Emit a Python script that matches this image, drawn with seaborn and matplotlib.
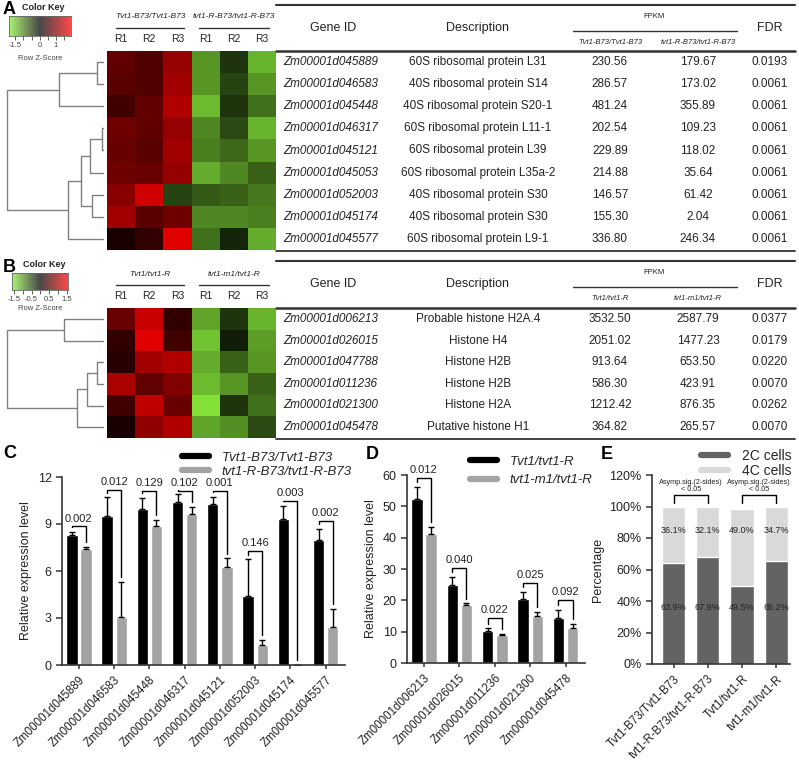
import numpy as np
import pandas as pd
import matplotlib.pyplot as plt
import seaborn as sns
from matplotlib.colors import LinearSegmentedColormap
from matplotlib.lines import Line2D

sns.set_style("ticks")
plt.rcParams['font.family'] = ['Liberation Sans', 'DejaVu Sans']

# ---------------- data ----------------
reps = ['R1', 'R2', 'R3', 'R1', 'R2', 'R3']

heat_a = [[0.60, 0.50, 0.95, -1.00, -0.35, -1.20],
          [0.55, 0.50, 1.00, -1.00, -0.45, -1.00],
          [0.40, 0.60, 1.10, -1.25, -0.35, -0.75],
          [0.70, 0.60, 0.95, -0.90, -0.50, -1.20],
          [0.65, 0.55, 1.00, -0.85, -0.70, -1.00],
          [0.70, 0.65, 0.95, -1.15, -0.90, -0.65],
          [0.85, 1.30, -0.45, -0.60, -0.65, -0.80],
          [1.00, 0.55, 0.70, -0.90, -0.90, -0.85],
          [0.15, 0.30, 1.40, -0.75, -0.25, -1.15]]
# dendrogram merges: (child a, child b, height); ids >= n are earlier merges
dendro_a = [(0, 1, 6), (9, 2, 44), (3, 4, 1), (11, 5, 13), (6, 7, 11),
            (12, 13, 22), (14, 8, 35), (10, 15, 96)]
ids_a = ['Zm00001d045889', 'Zm00001d046583', 'Zm00001d045448', 'Zm00001d046317',
         'Zm00001d045121', 'Zm00001d045053', 'Zm00001d052003', 'Zm00001d045174',
         'Zm00001d045577']
desc_a = ['60S ribosomal protein L31', '40S ribosomal protein S14',
          '40S ribosomal protein S20-1', '60S ribosomal protein L11-1',
          '60S ribosomal protein L39', '60S ribosomal protein L35a-2',
          '40S ribosomal protein S30', '40S ribosomal protein S30',
          '60S ribosomal protein L9-1']
fpkm_a_wt = [230.56, 286.57, 481.24, 202.54, 229.89, 214.88, 146.57, 155.30, 336.80]
fpkm_a_mut = [179.67, 173.02, 355.89, 109.23, 118.02, 35.64, 61.42, 2.04, 246.34]
fdr_a = [0.0193, 0.0061, 0.0061, 0.0061, 0.0061, 0.0061, 0.0061, 0.0061, 0.0061]
groups_a = ['Tvt1-B73/Tvt1-B73', 'tvt1-R-B73/tvt1-R-B73']

# panel B
heat_b = [[0.65, 1.25, 0.30, -1.10, -0.35, -1.20],
          [0.30, 1.40, 0.40, -1.30, -0.20, -1.05],
          [0.25, 1.00, 1.10, -1.15, -0.65, -1.00],
          [1.05, 0.60, 0.80, -1.25, -1.00, -0.65],
          [0.40, 1.20, 0.65, -1.50, -0.35, -0.75],
          [0.15, 0.90, 1.10, -1.10, -0.95, -0.50]]
dendro_b = [(0, 1, 39), (2, 3, 6), (7, 4, 16), (8, 5, 26), (6, 9, 96)]
ids_b = ['Zm00001d006213', 'Zm00001d026015', 'Zm00001d047788', 'Zm00001d011236',
         'Zm00001d021300', 'Zm00001d045478']
desc_b = ['Probable histone H2A.4', 'Histone H4', 'Histone H2B', 'Histone H2B',
          'Histone H2A', 'Putative histone H1']
fpkm_b_wt = [3532.50, 2051.02, 913.64, 586.30, 1212.42, 364.82]
fpkm_b_mut = [2587.79, 1477.23, 653.50, 423.91, 876.35, 265.57]
fdr_b = [0.0377, 0.0179, 0.0220, 0.0070, 0.0262, 0.0070]
groups_b = ['Tvt1/tvt1-R', 'tvt1-m1/tvt1-R']

# panel C
genes_c = ['Zm00001d045889', 'Zm00001d046583', 'Zm00001d045448', 'Zm00001d046317',
           'Zm00001d045121', 'Zm00001d052003', 'Zm00001d045174', 'Zm00001d045577']
c_wt = [8.3, 9.5, 9.95, 10.4, 10.27, 4.4, 9.3, 8.0]
c_wt_err = [0.2, 1.2, 0.7, 0.5, 0.45, 2.35, 0.85, 0.7]
c_mut = [7.4, 3.05, 8.85, 9.64, 6.25, 1.28, 0.0, 2.4]
c_mut_err = [0.15, 2.25, 0.4, 0.45, 0.55, 0.32, 0.0, 1.2]
c_p = ['0.002', '0.012', '0.129', '0.102', '0.001', '0.146', '0.003', '0.002']
c_bracket = [8.85, 11.2, 11.1, 11.1, 11.1, 7.3, 10.5, 9.2]

# panel D
genes_d = ['Zm00001d006213', 'Zm00001d026015', 'Zm00001d011236', 'Zm00001d021300',
           'Zm00001d045478']
d_wt = [52.5, 24.9, 10.2, 20.4, 14.4]
d_wt_err = [3.8, 2.6, 0.9, 2.3, 2.5]
d_mut = [41.2, 18.5, 8.9, 15.0, 11.2]
d_mut_err = [2.2, 0.5, 0.4, 1.3, 1.3]
d_p = ['0.012', '0.040', '0.022', '0.025', '0.092']
d_bracket = [59.0, 30.3, 14.4, 25.5, 20.1]

# panel E
e_groups = ['Tvt1-B73/Tvt1-B73', 'tvt1-R-B73/tvt1-R-B73', 'Tvt1/tvt1-R', 'tvt1-m1/tvt1-R']
e_2c = [63.9, 67.9, 49.5, 65.2]
e_4c = [36.1, 32.1, 49.0, 34.7]
e_pairs = [(0, 1), (2, 3)]

# ---------------- helpers ----------------
W, H = 799, 761
fig = plt.figure(figsize=(W / 100, H / 100), dpi=100)
cmap = LinearSegmentedColormap.from_list('greenred', ['#8cf03c', '#000000', '#ff0000'])
INK = '#222222'


def rect(x0, y0, x1, y1):
    return [x0 / W, 1 - y1 / H, (x1 - x0) / W, (y1 - y0) / H]


def ftext(x, y, s, ha='center', va='center', **kw):
    fig.text(x / W, 1 - y / H, s, ha=ha, va=va, color=kw.pop('color', INK), **kw)


def fline(x0, x1, y, lw=1.0, color='#333333'):
    fig.add_artist(Line2D([x0 / W, x1 / W], [1 - y / H, 1 - y / H], lw=lw, color=color))


def dendrogram(box, merges, n):
    ax = fig.add_axes(rect(*box))
    pos = {i: (i + 0.5, 0.0) for i in range(n)}
    for k, (a, b, h) in enumerate(merges):
        ya, ha_ = pos[a]
        yb, hb = pos[b]
        ax.plot([ha_, h, h, hb], [ya, ya, yb, yb], color='#808080', lw=1, clip_on=False)
        pos[n + k] = ((ya + yb) / 2, h)
    ax.set_xlim(max(m[2] for m in merges), 0)
    ax.set_ylim(n, 0)
    ax.axis('off')


def color_key(box, lo, hi, ticks, labels):
    cax = fig.add_axes(rect(*box))
    grad = np.linspace(lo, hi, 256)[None, :]
    cax.imshow(grad, aspect='auto', cmap=cmap, vmin=lo, vmax=hi,
               extent=(lo, hi, 0, 1), alpha=0.72)
    cax.set_xticks(ticks)
    cax.set_xticklabels(labels)
    cax.set_yticks([])
    cax.tick_params(axis='x', labelsize=5.5, length=3, width=0.6, pad=1, colors='#444444')
    for s in cax.spines.values():
        s.set_linewidth(0.6)
        s.set_color('#666666')


def heat(box, data):
    ax = fig.add_axes(rect(*box))
    sns.heatmap(np.array(data), ax=ax, cmap=cmap, vmin=-1.6, vmax=1.6, cbar=False,
                xticklabels=reps, yticklabels=False)
    ax.xaxis.tick_top()
    ax.tick_params(axis='x', length=0, pad=5, labelsize=7.5, labelrotation=0, colors=INK)
    return ax


def table(box, ids, desc, f1, f2, fdr):
    ax = fig.add_axes(rect(*box))
    ax.set_xlim(box[0], box[2])
    ax.set_ylim(len(ids), 0)
    ax.axis('off')
    for i in range(len(ids)):
        y = i + 0.5
        ax.text(283, y, ids[i], ha='left', va='center', style='italic', fontsize=8.5, color=INK)
        ax.text(478, y, desc[i], ha='center', va='center', fontsize=8.5, color=INK)
        ax.text(610, y, f'{f1[i]:.2f}', ha='center', va='center', fontsize=8.5, color=INK)
        ax.text(698, y, f'{f2[i]:.2f}', ha='center', va='center', fontsize=8.5, color=INK)
        ax.text(770, y, f'{fdr[i]:.4f}', ha='center', va='center', fontsize=8.5, color=INK)


def table_header(y0, sub1, sub2):
    fline(276, 795, y0, lw=1.5)
    ftext(333, y0 + 23, 'Gene ID', fontsize=9)
    ftext(478, y0 + 23, 'Description', fontsize=9)
    ftext(654, y0 + 11, 'FPKM', fontsize=5.5)
    fline(573, 737, y0 + 26, lw=1.0)
    ftext(610, y0 + 37, sub1, fontsize=5.5, style='italic')
    ftext(698, y0 + 37, sub2, fontsize=5.5, style='italic')
    ftext(770, y0 + 23, 'FDR', fontsize=9)


def group_labels(y0, names):
    for cx, x0, x1, name in [(150, 116, 184, names[0]), (234, 199, 269, names[1])]:
        ftext(cx, y0, name, fontsize=6.0, style='italic')
        fline(x0, x1, y0 + 11, lw=1.0)


def style_axes(ax):
    sns.despine(ax=ax)
    for s in ['left', 'bottom']:
        ax.spines[s].set_linewidth(1.2)
        ax.spines[s].set_color('#333333')
    ax.tick_params(width=1.1, length=4, colors='#333333', labelcolor=INK)
    ax.set_xlabel('')


def bar_panel(box, genes, wt, wt_err, mut, mut_err, pvals, tops, names, yticks, gapfrac):
    ax = fig.add_axes(rect(*box))
    df = pd.DataFrame({'gene': genes * 2,
                       'value': wt + mut,
                       'genotype': [names[0]] * len(genes) + [names[1]] * len(genes)})
    sns.barplot(data=df, x='gene', y='value', hue='genotype', ax=ax,
                palette=['#000000', '#a3a3a3'], width=0.8, gap=0.2, errorbar=None,
                saturation=1, legend=False)
    errs = wt_err + mut_err
    xs = [p.get_x() + p.get_width() / 2 for p in ax.patches]
    hs = [p.get_height() for p in ax.patches]
    ax.errorbar(xs, hs, yerr=[np.zeros(len(errs)), errs], fmt='none', ecolor='black',
                elinewidth=1, capsize=2.5, capthick=1)
    n = len(genes)
    for i in range(n):
        xl, xr = xs[i], xs[i + n]
        yl = hs[i] + wt_err[i] + gapfrac
        yr = hs[i + n] + mut_err[i] + gapfrac
        ax.plot([xl, xl, xr, xr], [yl, tops[i], tops[i], yr], color='black', lw=1, clip_on=False)
        ax.text((xl + xr) / 2, tops[i] + gapfrac * 0.6, pvals[i], ha='center', va='bottom',
                fontsize=8, color=INK, clip_on=False)
    ax.set_ylim(yticks[0], yticks[-1])
    ax.set_yticks(yticks)
    ax.set_xlim(-0.48, n - 0.45)
    style_axes(ax)
    ax.set_ylabel('Relative expression level', fontsize=9, color=INK)
    ax.tick_params(axis='y', labelsize=9)
    ax.tick_params(axis='x', labelsize=8.3, length=3)
    plt.setp(ax.get_xticklabels(), rotation=45, ha='right', rotation_mode='anchor')
    return ax


def line_legend(ax, anchor, labels, colors, italic, size, spacing):
    handles = [Line2D([], [], color=c, lw=4.5) for c in colors]
    ax.legend(handles, labels, loc='upper left', bbox_to_anchor=(anchor[0] / W, 1 - anchor[1] / H),
              bbox_transform=fig.transFigure, frameon=False, borderaxespad=0,
              handlelength=2.0, handletextpad=1.0, labelspacing=spacing,
              prop={'style': 'italic' if italic else 'normal', 'size': size})


# ---------------- panel A ----------------
ftext(3, 10, 'A', ha='left', fontsize=13, weight='bold', color='black')
ftext(22, 8, 'Color Key', ha='left', fontsize=6.5, weight='bold')
color_key((9, 16, 71, 36), -1.9, 1.95, np.arange(-1.5, 2.0, 0.5),
          ['-1.5', '', '', '0', '', '1', ''])
ftext(40, 59, 'Row Z-Score', fontsize=5.5, color='#444444')
group_labels(17, groups_a)
heat((107, 51, 276, 250), heat_a)
dendrogram((7, 51, 103, 250), dendro_a, len(heat_a))
table_header(5, groups_a[0], groups_a[1])
fline(276, 795, 51, lw=1.8)
table((276, 51, 795, 250), ids_a, desc_a, fpkm_a_wt, fpkm_a_mut, fdr_a)
fline(276, 795, 251, lw=1.3)

# ---------------- panel B ----------------
ftext(3, 267, 'B', ha='left', fontsize=13, weight='bold', color='black')
ftext(23, 265, 'Color Key', ha='left', fontsize=6.5, weight='bold')
color_key((12, 273, 68, 290), -1.61, 1.56, np.arange(-1.5, 1.6, 0.5),
          ['-1.5', '', '-0.5', '', '0.5', '', '1.5'])
ftext(40, 309, 'Row Z-Score', fontsize=5.5, color='#444444')
group_labels(274, groups_b)
heat((107, 308, 276, 438), heat_b)
dendrogram((7, 308, 103, 438), dendro_b, len(heat_b))
table_header(261, groups_b[0], groups_b[1])
fline(276, 795, 308, lw=1.8)
table((276, 308, 795, 438), ids_b, desc_b, fpkm_b_wt, fpkm_b_mut, fdr_b)
fline(276, 795, 439, lw=1.3)

# ---------------- panel C ----------------
ftext(3, 453, 'C', ha='left', fontsize=13, weight='bold', color='black')
axc = bar_panel((62, 477, 345, 665), genes_c, c_wt, c_wt_err, c_mut, c_mut_err, c_p,
                c_bracket, groups_a, [0, 3, 6, 9, 12], 0.3)
line_legend(axc, (177, 446), groups_a, ['#000000', '#a3a3a3'], True, 9.5, 0.15)

# ---------------- panel D ----------------
ftext(366, 454, 'D', ha='left', fontsize=13, weight='bold', color='black')
axd = bar_panel((407, 475, 585, 663), genes_d, d_wt, d_wt_err, d_mut, d_mut_err, d_p,
                d_bracket, groups_b, [0, 10, 20, 30, 40, 50, 60], 1.5)
line_legend(axd, (465, 450), groups_b, ['#000000', '#a3a3a3'], True, 9.5, 0.5)

# ---------------- panel E ----------------
ftext(601, 454, 'E', ha='left', fontsize=13, weight='bold', color='black')
axe = fig.add_axes(rect(652, 475, 790, 664))
dfe = pd.DataFrame({'group': e_groups, 'c2': e_2c, 'c4': e_4c})
dfe['total'] = dfe['c2'] + dfe['c4']
sns.barplot(data=dfe, x='group', y='total', color='#d9d9d9', saturation=1, width=0.68, ax=axe)
sns.barplot(data=dfe, x='group', y='c2', color='#636363', saturation=1, width=0.68, ax=axe)
for i in range(len(e_groups)):
    axe.text(i, 85, f'{e_4c[i]:.1f}%', ha='center', va='center', fontsize=6.5, color=INK)
    axe.text(i, 36, f'{e_2c[i]:.1f}%', ha='center', va='center', fontsize=6.5, color=INK)
for a, b in e_pairs:
    axe.plot([a, a, b, b], [102, 107, 107, 102], color='black', lw=1, clip_on=False)
    axe.text((a + b) / 2, 115.5, 'Asymp.sig.(2-sides)', ha='center', va='center', fontsize=5.2,
             color=INK, clip_on=False)
    axe.text((a + b) / 2, 110.8, '< 0.05', ha='center', va='center', fontsize=5.2,
             color=INK, clip_on=False)
axe.set_ylim(0, 120)
axe.set_yticks(range(0, 121, 20))
axe.set_yticklabels([f'{t}%' for t in range(0, 121, 20)])
axe.set_xlim(-0.63, 3.4)
style_axes(axe)
axe.set_ylabel('Percentage', fontsize=9, color=INK)
axe.tick_params(axis='y', labelsize=9)
axe.tick_params(axis='x', labelsize=8.3, length=3)
plt.setp(axe.get_xticklabels(), rotation=45, ha='right', rotation_mode='anchor')
line_legend(axe, (695, 443), ['2C cells', '4C cells'], ['#636363', '#d9d9d9'], False, 10, 0.1)

plt.savefig('out.png', dpi=100)
